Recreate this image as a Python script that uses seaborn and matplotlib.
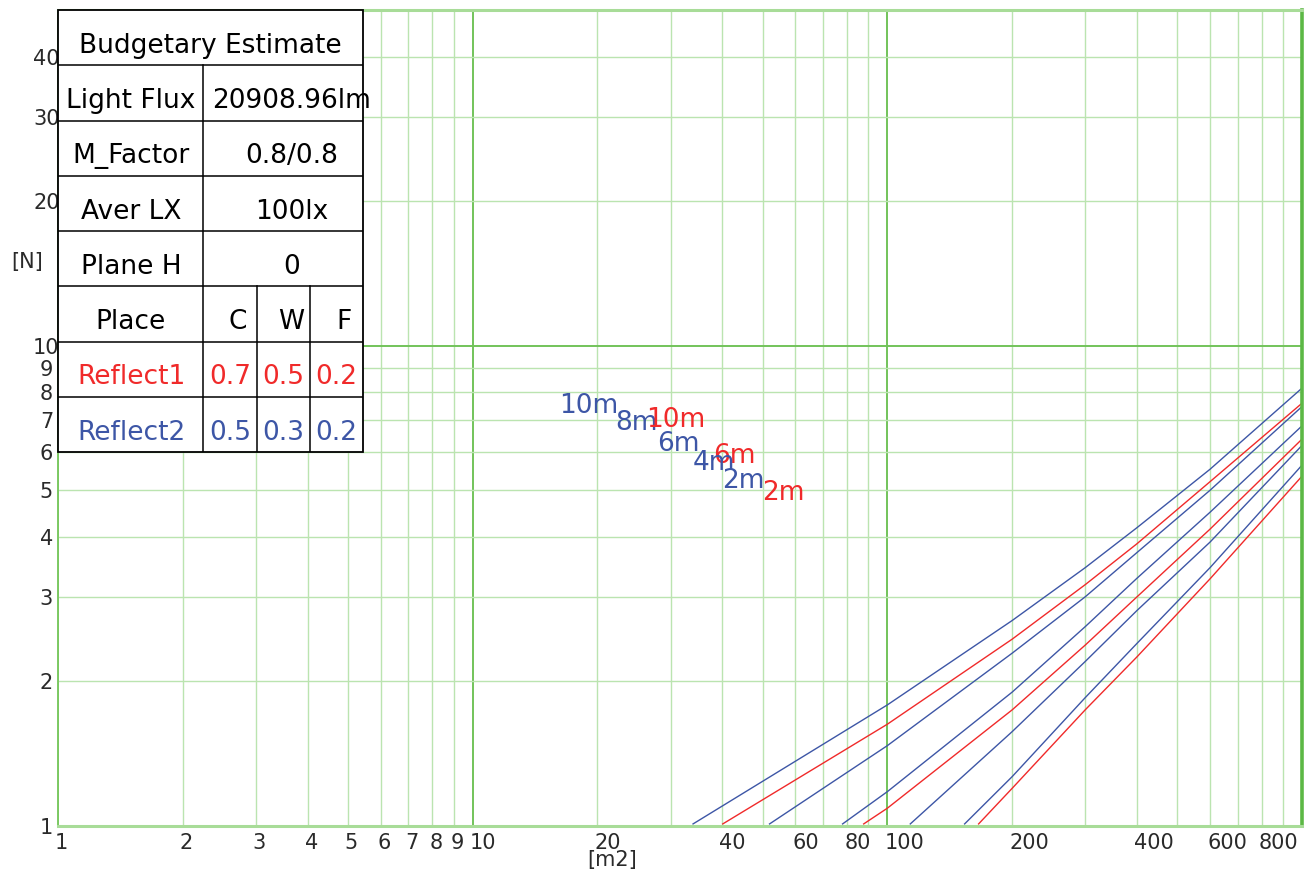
import pandas as pd
import seaborn as sns
import matplotlib.pyplot as plt
import matplotlib.transforms as mtransforms
from matplotlib.patches import Rectangle
from matplotlib.ticker import LogLocator

# 面积-灯具数量曲线 (从图上读取的点)
area_b10 = [34.0, 100, 200, 300, 400, 600, 1000]
num_b10 = [1.01, 1.787, 2.678, 3.45, 4.18, 5.53, 8.16]
area_r10 = [40.1, 100, 200, 300, 400, 600, 1000]
num_r10 = [1.01, 1.629, 2.449, 3.18, 3.87, 5.21, 7.59]
area_b8 = [52.0, 100, 200, 300, 400, 600, 1000]
num_b8 = [1.01, 1.47, 2.29, 3.00, 3.71, 5.00, 7.47]
area_b6 = [78.0, 100, 200, 300, 400, 600, 1000]
num_b6 = [1.01, 1.179, 1.90, 2.60, 3.28, 4.50, 6.81]
area_r6 = [87.7, 100, 200, 300, 400, 600, 1000]
num_r6 = [1.01, 1.089, 1.745, 2.38, 3.00, 4.15, 6.39]
area_b4 = [113.6, 200, 300, 400, 600, 1000]
num_b4 = [1.01, 1.572, 2.20, 2.81, 3.90, 6.20]
area_b2 = [153.6, 200, 300, 400, 600, 1000]
num_b2 = [1.01, 1.267, 1.85, 2.40, 3.45, 5.64]
area_r2 = [166, 200, 300, 400, 600, 1000]
num_r2 = [1.01, 1.198, 1.745, 2.25, 3.27, 5.35]

curve_names = ['b10', 'r10', 'b8', 'b6', 'r6', 'b4', 'b2', 'r2']
curve_area = [area_b10, area_r10, area_b8, area_b6, area_r6, area_b4, area_b2, area_r2]
curve_num = [num_b10, num_r10, num_b8, num_b6, num_r6, num_b4, num_b2, num_r2]

# 曲线标注 (高度)
label_text = ['10m', '8m', '10m', '6m', '6m', '4m', '2m', '2m']
label_x = [19.04, 24.8, 30.9, 31.4, 42.8, 38.1, 45.0, 56.2]
label_y = [7.50, 6.90, 7.01, 6.25, 5.88, 5.70, 5.22, 4.94]
label_series = ['Reflect2', 'Reflect2', 'Reflect1', 'Reflect2', 'Reflect1', 'Reflect2', 'Reflect2', 'Reflect1']

# 坐标刻度
x_ticks = [1, 2, 3, 4, 5, 6, 7, 8, 9, 10, 20, 40, 60, 80, 100, 200, 400, 600, 800]
y_ticks = [1, 2, 3, 4, 5, 6, 7, 8, 9, 10, 20, 30, 40]

# 表格内容
table_title = 'Budgetary Estimate'
table_labels = ['Light Flux', 'M_Factor', 'Aver LX', 'Plane H']
table_values = ['20908.96lm', '0.8/0.8', '100lx', '0']
place_cols = ['C', 'W', 'F']
reflect1 = ['0.7', '0.5', '0.2']
reflect2 = ['0.5', '0.3', '0.2']

BLUE = '#3d56a6'
RED = '#f02a2a'

rows = []
for name, xs, ys in zip(curve_names, curve_area, curve_num):
    for a, n in zip(xs, ys):
        rows.append({'area': a, 'num': n, 'curve': name})
df = pd.DataFrame(rows)
palette = {n: (BLUE if n.startswith('b') else RED) for n in curve_names}

plt.rcParams['font.family'] = ['DejaVu Sans']
W, H = 1306, 876
fig = plt.figure(figsize=(W / 100, H / 100), dpi=100)
ax = fig.add_axes([58 / W, 50 / H, 1244 / W, 816 / H])
ax.set_xscale('log')
ax.set_yscale('log')

sns.lineplot(data=df, x='area', y='num', hue='curve', palette=palette,
             estimator=None, sort=False, legend=False, linewidth=1.0, ax=ax)

ax.set_xlim(1, 1000)
ax.set_ylim(1, 50)
ax.set_xlabel('')
ax.set_ylabel('')

# 网格
for axis in (ax.xaxis, ax.yaxis):
    axis.set_major_locator(LogLocator(base=10, numticks=10))
    axis.set_minor_locator(LogLocator(base=10, subs=range(2, 10), numticks=20))
ax.grid(which='minor', color='#bbe4b0', lw=1.0)
ax.grid(which='major', color='#72c35a', lw=1.4)
ax.tick_params(which='both', length=0, labelbottom=False, labelleft=False)
ax.spines['left'].set_color('#7cc963')
ax.spines['left'].set_linewidth(1.4)
for s in ('top', 'bottom'):
    ax.spines[s].set_color('#a8dc98')
    ax.spines[s].set_linewidth(2.2)
ax.spines['right'].set_color('#5cb845')
ax.spines['right'].set_linewidth(2.6)

# 刻度标签
tx = mtransforms.blended_transform_factory(ax.transData, ax.transAxes) + \
    mtransforms.ScaledTranslation(-3 / 100, 0, fig.dpi_scale_trans)
for v in x_ticks:
    ax.text(v, -0.009, str(v), transform=tx, ha='left', va='top',
            fontsize=15, color='#2a2a2a')
ty = mtransforms.blended_transform_factory(ax.transAxes, ax.transData)
for v in y_ticks:
    ax.text(-0.0093, v, str(v), transform=ty, ha='center', va='center_baseline',
            fontsize=15, color='#2a2a2a')
fig.text(27 / W, 1 - 262 / H, '[N]', ha='center', va='center', fontsize=15, color='#2a2a2a')
fig.text(612 / W, 1 - 860 / H, '[m2]', ha='center', va='center', fontsize=15, color='#2a2a2a')

# 曲线标注
for t, x, y, s in zip(label_text, label_x, label_y, label_series):
    ax.text(x, y, t, ha='center', va='center', fontsize=19,
            color=RED if s == 'Reflect1' else BLUE)

# 表格
TW, TH = 305, 442.3
tab = fig.add_axes([58 / W, (H - 10 - TH) / H, TW / W, TH / H])
tab.set_xlim(0, TW)
tab.set_ylim(TH, 0)
tab.set_xticks([])
tab.set_yticks([])
for s in tab.spines.values():
    s.set_visible(False)
tab.add_patch(Rectangle((0, 0), TW, TH, facecolor='white', edgecolor='black',
                        lw=1.3, clip_on=False))
rh = TH / 8
for i in range(1, 8):
    tab.plot([0, TW], [rh * i, rh * i], color='black', lw=1.1)
tab.plot([145, 145], [rh, TH], color='black', lw=1.1)
for xv in (199, 252):
    tab.plot([xv, xv], [rh * 5, TH], color='black', lw=1.1)

fs = 19
dy = 5
tab.text(TW / 2, rh * 0.5 + dy, table_title, ha='center', va='center_baseline', fontsize=fs)
for i, (lab, val) in enumerate(zip(table_labels, table_values)):
    yc = rh * (i + 1.5) + dy
    tab.text(73, yc, lab, ha='center', va='center_baseline', fontsize=fs)
    tab.text(234, yc, val, ha='center', va='center_baseline', fontsize=fs)
tab.text(73, rh * 5.5 + dy, 'Place', ha='center', va='center_baseline', fontsize=fs)
for xc, t in zip((180, 233, 286), place_cols):
    tab.text(xc, rh * 5.5 + dy, t, ha='center', va='center_baseline', fontsize=fs)
tab.text(73, rh * 6.5 + dy, 'Reflect1', ha='center', va='center_baseline', fontsize=fs, color=RED)
tab.text(73, rh * 7.5 + dy, 'Reflect2', ha='center', va='center_baseline', fontsize=fs, color=BLUE)
for xc, v1, v2 in zip((172, 225.5, 278.5), reflect1, reflect2):
    tab.text(xc, rh * 6.5 + dy, v1, ha='center', va='center_baseline', fontsize=fs, color=RED)
    tab.text(xc, rh * 7.5 + dy, v2, ha='center', va='center_baseline', fontsize=fs, color=BLUE)

fig.savefig('out.png', dpi=100)
